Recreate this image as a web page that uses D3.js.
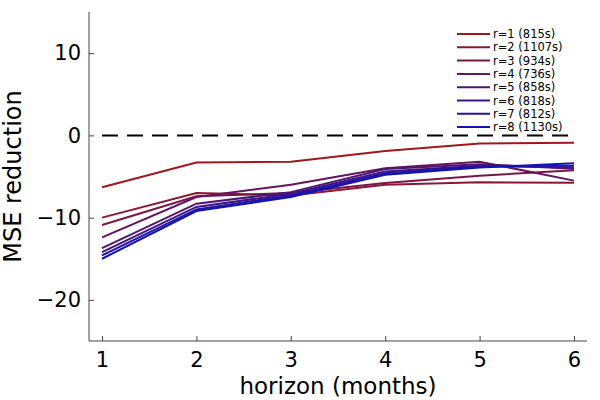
<!doctype html>
<html>
<head>
    <meta charset="utf-8" />
    <title></title>
    <style>
        body { margin: 0; background: #fff; }
        svg text { font-family: "DejaVu Sans", sans-serif; fill: #000; }
    </style>
</head>
<body>
    <div id="chart"></div>

    <script src="https://cdn.jsdelivr.net/npm/d3@7"></script>
    <script>
        var horizons = [1, 2, 3, 4, 5, 6];
        var labels = ["r=1 (815s)", "r=2 (1107s)", "r=3 (934s)", "r=4 (736s)",
                      "r=5 (858s)", "r=6 (818s)", "r=7 (812s)", "r=8 (1130s)"];
        var r1 = [-6.3, -3.3, -3.2, -1.9, -1.0, -0.9];
        var r2 = [-10.0, -7.0, -7.3, -6.0, -5.7, -5.75];
        var r3 = [-10.9, -7.4, -7.0, -5.8, -4.9, -4.25];
        var r4 = [-12.4, -7.5, -6.0, -4.0, -3.2, -5.5];
        var r5 = [-13.7, -8.3, -6.9, -4.1, -3.5, -4.05];
        var r6 = [-14.2, -8.7, -7.1, -4.4, -3.7, -3.9];
        var r7 = [-14.6, -9.0, -7.3, -4.6, -3.8, -3.7];
        var r8 = [-15.0, -9.2, -7.5, -4.8, -3.9, -3.4];
        var series = [r1, r2, r3, r4, r5, r6, r7, r8];
        var yTicks = [-20, -10, 0, 10];

        var w = 600, h = 400;
        var pLeft = 89, pRight = 587, pTop = 12, pBottom = 341;

        var svg = d3.select("#chart").append("svg").attr("width", w).attr("height", h);

        var x = d3.scaleLinear().domain([0.862, 6.138]).range([pLeft, pRight]);
        var y = d3.scaleLinear().domain([-25, 15]).range([pBottom, pTop]);
        var color = d3.scaleLinear().domain([0, series.length - 1])
            .range(["#a0181c", "#1212b4"]).interpolate(d3.interpolateRgb);

        // axes, ticks pointing inward
        var xAxis = svg.append("g").attr("transform", "translate(0," + pBottom + ")")
            .call(d3.axisTop(x).tickValues(horizons).tickSize(5).tickSizeOuter(0)
                .tickFormat(d3.format("d")));
        xAxis.selectAll("text").attr("dy", null).attr("y", 26).attr("font-size", 21);
        var yAxis = svg.append("g").attr("transform", "translate(" + pLeft + ",0)")
            .call(d3.axisRight(y).tickValues(yTicks).tickSize(5).tickSizeOuter(0)
                .tickFormat(function(d) { return d < 0 ? "\u2212" + (-d) : d; }));
        yAxis.selectAll("text").attr("x", -8).attr("text-anchor", "end").attr("font-size", 21);
        svg.selectAll(".domain").remove();
        svg.selectAll(".tick line").attr("stroke", "#444");
        svg.append("line").attr("x1", pLeft).attr("x2", pLeft).attr("y1", pTop).attr("y2", pBottom)
            .attr("stroke", "#444");
        svg.append("line").attr("x1", pLeft).attr("x2", pRight).attr("y1", pBottom).attr("y2", pBottom)
            .attr("stroke", "#444");

        // zero line
        svg.append("line").attr("x1", x(1)).attr("x2", x(6)).attr("y1", y(0)).attr("y2", y(0))
            .attr("stroke", "#000").attr("stroke-width", 2).attr("stroke-dasharray", "16,9");

        var line = d3.line().x(function(d, i) { return x(horizons[i]); }).y(function(d) { return y(d); });

        svg.selectAll("path.series").data(series).enter().append("path")
            .attr("class", "series")
            .attr("d", line)
            .attr("fill", "none")
            .attr("stroke", function(d, i) { return color(i); })
            .attr("stroke-width", 2);

        // legend
        var leg = svg.selectAll("g.leg").data(labels).enter().append("g")
            .attr("class", "leg")
            .attr("transform", function(d, i) { return "translate(457," + (34 + i * 13.3) + ")"; });
        leg.append("line").attr("x1", 0).attr("x2", 33)
            .attr("stroke", function(d, i) { return color(i); }).attr("stroke-width", 2);
        leg.append("text").attr("x", 36).attr("dy", "0.35em").attr("font-size", 11.5)
            .text(function(d) { return d; });

        svg.append("text").attr("x", (pLeft + pRight) / 2).attr("y", 394)
            .attr("text-anchor", "middle").attr("font-size", 23).text("horizon (months)");
        svg.append("text").attr("transform", "translate(21," + ((pTop + pBottom) / 2) + ") rotate(-90)")
            .attr("text-anchor", "middle").attr("font-size", 24).text("MSE reduction");
    </script>
</body>
</html>
